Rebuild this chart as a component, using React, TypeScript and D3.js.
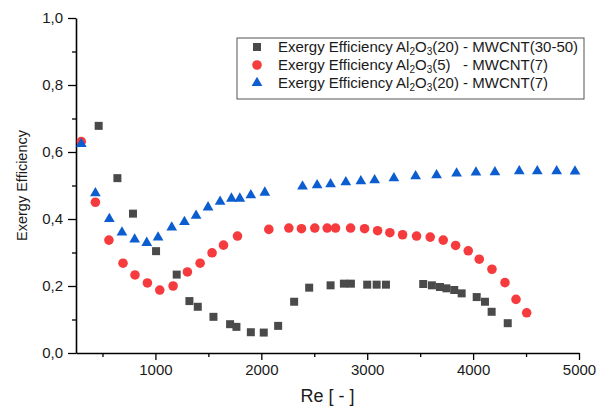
import React, { useEffect, useRef } from "react";
import {
  select,
  scaleLinear,
  axisBottom,
  axisLeft,
  symbol,
  symbolSquare,
  symbolCircle,
  symbolTriangle,
  range,
} from "d3";

const width = 598;
const height = 407;
const marginLeft = 76;
const marginRight = 19;
const marginTop = 18;
const marginBottom = 54;
const font = "'Liberation Sans', Arial, sans-serif";

// Al2O3(20) - MWCNT(30-50)
const reGray = [464, 641, 788, 1006, 1201, 1321, 1400, 1548, 1705, 1765, 1901, 2023, 2159, 2310, 2452, 2654, 2780, 2846, 3000, 3089, 3177, 3529, 3611, 3687, 3748, 3822, 3892, 4034, 4112, 4175, 4327];
const effGray = [0.678, 0.522, 0.416, 0.304, 0.234, 0.155, 0.138, 0.108, 0.086, 0.078, 0.062, 0.061, 0.081, 0.153, 0.195, 0.202, 0.207, 0.207, 0.204, 0.204, 0.204, 0.206, 0.202, 0.197, 0.193, 0.188, 0.178, 0.167, 0.153, 0.123, 0.089];

// Al2O3(5) - MWCNT(7)
const reRed = [300, 433, 561, 694, 807, 924, 1041, 1167, 1302, 1422, 1535, 1643, 1775, 2071, 2260, 2379, 2505, 2622, 2701, 2843, 2975, 3098, 3214, 3334, 3466, 3595, 3718, 3835, 3954, 4058, 4178, 4301, 4405, 4506];
const effRed = [0.631, 0.45, 0.337, 0.268, 0.233, 0.209, 0.188, 0.2, 0.242, 0.268, 0.299, 0.322, 0.349, 0.369, 0.373, 0.371, 0.373, 0.373, 0.373, 0.373, 0.371, 0.365, 0.359, 0.353, 0.349, 0.346, 0.337, 0.321, 0.305, 0.28, 0.25, 0.21, 0.16, 0.12];

// Al2O3(20) - MWCNT(7)
const reBlue = [300, 433, 565, 684, 804, 918, 1025, 1154, 1274, 1384, 1497, 1611, 1718, 1797, 1901, 2033, 2389, 2527, 2654, 2798, 2940, 3070, 3252, 3457, 3655, 3844, 4027, 4206, 4436, 4606, 4789, 4962];
const effBlue = [0.624, 0.477, 0.4, 0.36, 0.339, 0.329, 0.345, 0.375, 0.391, 0.41, 0.435, 0.452, 0.461, 0.461, 0.471, 0.479, 0.497, 0.501, 0.504, 0.51, 0.513, 0.516, 0.522, 0.528, 0.531, 0.536, 0.539, 0.54, 0.543, 0.543, 0.543, 0.542];

const xTicks = [1000, 2000, 3000, 4000, 5000];
const xMinor = [500, 1500, 2500, 3500, 4500];
const yTicks = [0, 0.2, 0.4, 0.6, 0.8, 1.0];
const yMinor = [0.1, 0.3, 0.5, 0.7, 0.9];

const series = [
  { re: reGray, eff: effGray, shape: symbolSquare, size: 64, color: "#4a4a4a", label: "(20) - MWCNT(30-50)" },
  { re: reRed, eff: effRed, shape: symbolCircle, size: 72, color: "#f53b3d", label: "(5)   - MWCNT(7)" },
  { re: reBlue, eff: effBlue, shape: symbolTriangle, size: 50, color: "#0b5dd0", label: "(20) - MWCNT(7)" },
];

const App = () => {
  const svgRef = useRef(null);
  useEffect(() => {
    const svg = select(svgRef.current);
    svg.selectAll("*").remove();

    const xScale = scaleLinear()
      .domain([250, 5000])
      .range([marginLeft, width - marginRight]);
    const yScale = scaleLinear()
      .domain([0, 1])
      .range([height - marginBottom, marginTop]);

    // minor ticks first
    svg
      .append("g")
      .attr("transform", `translate(0,${height - marginBottom})`)
      .call(axisBottom(xScale).tickValues(xMinor).tickSize(4).tickFormat(() => ""))
      .call((g) => g.select(".domain").remove())
      .call((g) => g.selectAll("line").attr("stroke-width", 1.3));
    svg
      .append("g")
      .attr("transform", `translate(${marginLeft},0)`)
      .call(axisLeft(yScale).tickValues(yMinor).tickSize(4).tickFormat(() => ""))
      .call((g) => g.select(".domain").remove())
      .call((g) => g.selectAll("line").attr("stroke-width", 1.3));

    const xAxis = axisBottom(xScale)
      .tickValues(xTicks)
      .tickSize(7)
      .tickSizeOuter(0)
      .tickPadding(4)
      .tickFormat((d) => String(d));
    svg
      .append("g")
      .attr("transform", `translate(0,${height - marginBottom})`)
      .call(xAxis)
      .call((g) => g.select(".domain").attr("stroke-width", 1.6))
      .call((g) => g.selectAll("line").attr("stroke-width", 1.3))
      .call((g) =>
        g.selectAll("text").attr("font-size", 15).attr("font-family", font).attr("fill", "#1a1a1a"),
      );

    const yAxis = axisLeft(yScale)
      .tickValues(yTicks)
      .tickSize(8)
      .tickSizeOuter(0)
      .tickPadding(5)
      .tickFormat((d) => d.toFixed(1).replace(".", ","));
    svg
      .append("g")
      .attr("transform", `translate(${marginLeft},0)`)
      .call(yAxis)
      .call((g) => g.select(".domain").attr("stroke-width", 1.6))
      .call((g) => g.selectAll("line").attr("stroke-width", 1.3))
      .call((g) =>
        g.selectAll("text").attr("font-size", 15).attr("font-family", font).attr("fill", "#1a1a1a"),
      );

    svg
      .append("text")
      .attr("x", (marginLeft + width - marginRight) / 2)
      .attr("y", 397)
      .attr("text-anchor", "middle")
      .attr("dominant-baseline", "middle")
      .attr("font-family", font)
      .attr("font-size", 18)
      .attr("fill", "#1a1a1a")
      .text("Re [ - ]");

    svg
      .append("text")
      .attr("transform", `translate(23,${(marginTop + height - marginBottom) / 2}) rotate(-90)`)
      .attr("text-anchor", "middle")
      .attr("dominant-baseline", "middle")
      .attr("font-family", font)
      .attr("font-size", 14.5)
      .attr("fill", "#1a1a1a")
      .text("Exergy Efficiency");

    series.forEach((s) => {
      const pts = range(s.re.length).map((i) => [s.re[i], s.eff[i]]);
      svg
        .append("g")
        .selectAll("path")
        .data(pts)
        .join("path")
        .attr("transform", (d) => `translate(${xScale(d[0])},${yScale(d[1])})`)
        .attr("d", symbol().type(s.shape).size(s.size))
        .attr("fill", s.color);
    });

    // legend
    const legend = svg.append("g").attr("transform", "translate(237,38)");
    legend
      .append("rect")
      .attr("width", 347)
      .attr("height", 61)
      .attr("fill", "white")
      .attr("stroke", "#555")
      .attr("stroke-width", 1);
    series.forEach((s, i) => {
      const row = legend.append("g").attr("transform", `translate(0,${9 + i * 18})`);
      row
        .append("path")
        .attr("transform", "translate(20,0)")
        .attr("d", symbol().type(s.shape).size(s.size))
        .attr("fill", s.color);
      const t = row
        .append("text")
        .attr("x", 41)
        .attr("y", 5)
        .attr("font-family", font)
        .attr("font-size", 15)
        .attr("fill", "#1a1a1a")
        .style("white-space", "pre");
      t.append("tspan").text("Exergy Efficiency Al");
      t.append("tspan").attr("font-size", 10).attr("dy", 3).text("2");
      t.append("tspan").attr("dy", -3).text("O");
      t.append("tspan").attr("font-size", 10).attr("dy", 3).text("3");
      t.append("tspan").attr("dy", -3).text(s.label);
    });
  }, []);

  return (
    <svg
      ref={svgRef}
      width={width}
      height={height}
      style={{ position: "absolute", left: 0, top: 0, background: "white" }}
    />
  );
};

export default App;
